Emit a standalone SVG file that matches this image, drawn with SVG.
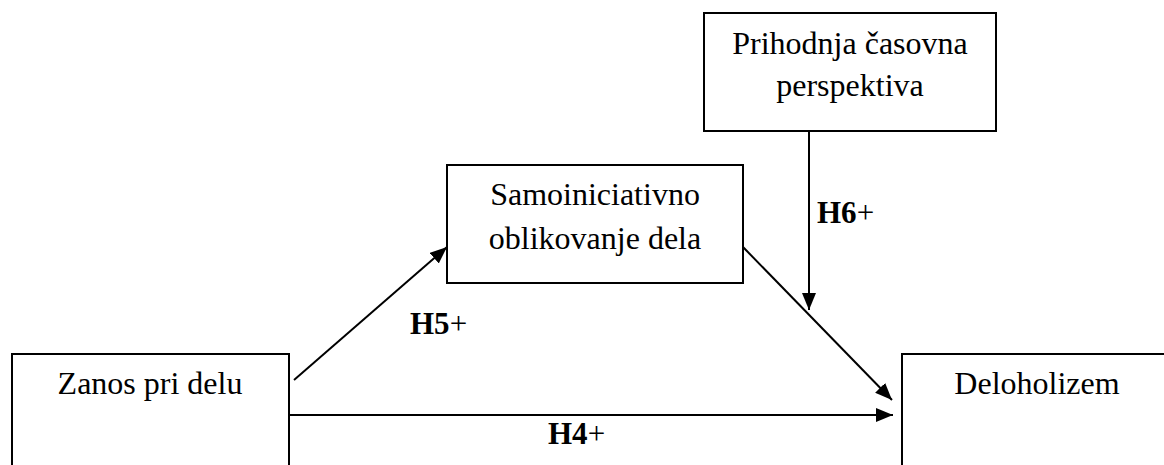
<svg xmlns="http://www.w3.org/2000/svg" width="1164" height="465" viewBox="0 0 1164 465">
  <style>
    .box { fill: #fff; stroke: #000; stroke-width: 2; }
    .lbl { font-family: "Liberation Serif", "Times New Roman", serif; font-size: 32px; fill: #000; text-anchor: middle; }
    .hyp { font-family: "Liberation Serif", "Times New Roman", serif; font-size: 31px; fill: #000; }
    .hyp .b { font-weight: bold; }
    .edge { stroke: #000; stroke-width: 2; fill: none; marker-end: url(#arrow); }
  </style>
  <defs>
    <marker id="arrow" markerUnits="userSpaceOnUse" markerWidth="18" markerHeight="14" refX="17" refY="7" orient="auto">
      <path d="M0,0 L17,7 L0,14 Z" fill="#000"/>
    </marker>
  </defs>
  <rect width="1164" height="465" fill="#fff"/>

  <g id="node-prihodnja">
    <rect class="box" x="704" y="13" width="292" height="118"/>
    <text class="lbl" x="850" y="54">Prihodnja časovna</text>
    <text class="lbl" x="850" y="96">perspektiva</text>
  </g>

  <g id="node-samoiniciativno">
    <rect class="box" x="447" y="165" width="296" height="118"/>
    <text class="lbl" x="595" y="205">Samoiniciativno</text>
    <text class="lbl" x="595" y="249">oblikovanje dela</text>
  </g>

  <g id="node-zanos">
    <rect class="box" x="12" y="354" width="277" height="130"/>
    <text class="lbl" x="150" y="394">Zanos pri delu</text>
  </g>

  <g id="node-deloholizem">
    <rect class="box" x="902" y="354" width="290" height="130"/>
    <text class="lbl" x="1037" y="394">Deloholizem</text>
  </g>

  <g id="connectors">
    <line class="edge" x1="294" y1="380" x2="447" y2="247"/>
    <line class="edge" x1="743" y1="247" x2="892" y2="400"/>
    <line class="edge" x1="289" y1="415" x2="893" y2="415"/>
    <line class="edge" x1="809" y1="131" x2="809" y2="310"/>
    <text class="hyp" x="817" y="223"><tspan class="b">H6</tspan>+</text>
    <text class="hyp" x="410" y="334"><tspan class="b">H5</tspan>+</text>
    <text class="hyp" x="548" y="444"><tspan class="b">H4</tspan>+</text>
  </g>
</svg>
